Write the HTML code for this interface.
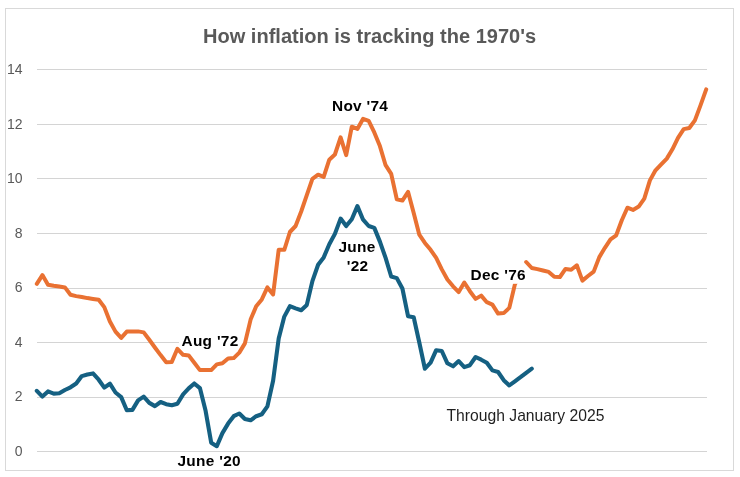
<!DOCTYPE html>
<html><head><meta charset="utf-8"><title>How inflation is tracking the 1970's</title>
<style>
html,body{margin:0;padding:0;background:#fff;}
body{width:740px;height:477px;overflow:hidden;}
svg{display:block;}
text{font-family:"Liberation Sans",sans-serif;}
.ax text{font-size:14px;fill:#595959;text-anchor:end;}
.lbl text{font-size:15.4px;font-weight:bold;fill:#000;letter-spacing:0.3px;}
</style></head><body>
<svg width="740" height="477" viewBox="0 0 740 477">
<rect x="0" y="0" width="740" height="477" fill="#fff"/>
<rect x="5.5" y="8.5" width="728" height="462" fill="#fff" stroke="#d9d9d9" stroke-width="1"/>
<text x="203" y="42.5" font-size="20.05" font-weight="bold" fill="#595959">How inflation is tracking the 1970's</text>
<g stroke="#d4d4d4" stroke-width="1">
<line x1="37" x2="707" y1="451.5" y2="451.5"/>
<line x1="37" x2="707" y1="397.5" y2="397.5"/>
<line x1="37" x2="707" y1="342.5" y2="342.5"/>
<line x1="37" x2="707" y1="288.5" y2="288.5"/>
<line x1="37" x2="707" y1="233.5" y2="233.5"/>
<line x1="37" x2="707" y1="178.5" y2="178.5"/>
<line x1="37" x2="707" y1="124.5" y2="124.5"/>
<line x1="37" x2="707" y1="69.5" y2="69.5"/>
</g>
<g class="ax">
<text x="22.6" y="456.0">0</text>
<text x="22.6" y="401.4">2</text>
<text x="22.6" y="346.8">4</text>
<text x="22.6" y="292.3">6</text>
<text x="22.6" y="237.7">8</text>
<text x="22.6" y="183.1">10</text>
<text x="22.6" y="128.5">12</text>
<text x="22.6" y="73.9">14</text>
</g>
<rect x="179" y="331" width="64" height="19" fill="#fff"/>
<g fill="none" stroke="#e97132" stroke-width="4" stroke-linejoin="round" stroke-linecap="round">
<polyline points="36.8,283.9 42.4,275.1 48.0,284.7 53.7,285.8 59.3,286.6 64.9,287.4 70.5,294.8 76.2,296.1 81.8,297.0 87.4,298.1 93.0,298.9 98.7,299.7 104.3,307.1 109.9,321.5 115.5,331.6 121.2,337.9 126.8,331.6 132.4,331.4 138.1,331.4 143.7,332.4 149.3,339.8 154.9,347.5 160.6,355.1 166.2,362.2 171.8,361.9 177.4,348.8 183.1,354.8 188.7,355.4 194.3,362.7 199.9,370.1 205.6,370.1 211.2,370.1 216.8,364.4 222.4,363.3 228.1,358.4 233.7,358.1 239.3,352.6 244.9,343.4 250.6,319.6 256.2,306.2 261.8,299.4 267.4,287.4 273.1,294.5 278.7,249.8 284.3,249.8 289.9,232.0 295.6,226.0 301.2,211.5 306.8,195.2 312.4,178.8 318.1,174.7 323.7,176.9 329.3,159.7 334.9,154.5 340.6,137.3 346.2,155.1 351.8,126.7 357.4,128.9 363.1,118.8 368.7,120.9 374.3,132.4 379.9,146.1 385.6,165.2 391.2,173.9 396.8,199.3 402.4,200.6 408.1,191.9 413.7,212.9 419.3,234.7 424.9,242.9 430.6,249.8 436.2,257.9 441.8,269.4 447.4,279.5 453.1,286.3 458.7,292.1 464.3,282.5 469.9,291.2 475.6,298.9 481.2,295.6 486.8,302.2 492.4,304.6 498.1,313.6 503.7,313.1 509.3,307.9 514.9,284.4 517.0,280.5"/>
<polyline points="526.2,262.0 531.8,268.0 537.4,269.1 543.0,270.5 548.7,271.9 554.3,276.8 559.9,277.0 565.5,268.9 571.2,269.7 576.8,265.3 582.4,280.6 588.0,276.0 593.7,271.6 599.3,257.1 604.9,247.8 610.5,239.4 616.2,235.3 621.8,220.3 627.4,207.7 633.0,209.9 638.7,206.6 644.3,198.7 649.9,180.4 655.5,170.3 661.2,164.3 666.8,158.6 672.4,149.3 678.0,137.9 683.7,129.1 689.3,128.0 694.9,120.4 700.5,105.4 706.2,89.3"/>
</g>
<g fill="none" stroke="#156082" stroke-width="4.1" stroke-linejoin="round" stroke-linecap="round">
<polyline points="36.8,390.8 42.4,396.6 48.0,391.4 53.7,393.6 59.3,393.3 64.9,390.0 70.5,387.3 76.2,383.5 81.8,376.1 87.4,374.5 93.0,373.4 98.7,379.7 104.3,387.6 109.9,383.7 115.5,392.5 121.2,397.1 126.8,410.2 132.4,409.9 138.1,400.4 143.7,396.6 149.3,402.9 154.9,406.1 160.6,402.0 166.2,404.2 171.8,405.3 177.4,403.7 183.1,394.4 188.7,388.4 194.3,383.5 199.9,388.1 205.6,410.8 211.2,442.7 216.8,446.2 222.4,433.1 228.1,423.6 233.7,416.2 239.3,413.5 244.9,419.0 250.6,420.3 256.2,416.2 261.8,414.3 267.4,406.4 273.1,380.7 278.7,338.4 284.3,316.6 289.9,306.2 295.6,308.4 301.2,310.3 306.8,304.9 312.4,281.1 318.1,264.8 323.7,257.4 329.3,244.3 334.9,233.9 340.6,218.6 346.2,226.0 351.8,219.2 357.4,206.1 363.1,219.7 368.7,226.0 374.3,227.9 379.9,241.6 385.6,257.9 391.2,276.5 396.8,278.1 402.4,288.5 408.1,316.3 413.7,317.2 419.3,342.5 424.9,368.7 430.6,362.7 436.2,350.2 441.8,351.0 447.4,363.3 453.1,366.3 458.7,361.1 464.3,367.1 469.9,365.2 475.6,357.0 481.2,359.7 486.8,362.7 492.4,370.4 498.1,372.0 503.7,380.2 509.3,385.4 514.9,381.3 520.5,377.2 526.2,372.8 531.8,368.7"/>
</g>
<rect x="505" y="266" width="20" height="17.8" fill="#fff"/>
<g class="lbl">
<text x="332" y="110.9">Nov '74</text>
<text x="338.5" y="251.7">June</text>
<text x="346.8" y="271.1">'22</text>
<text x="181.5" y="345.9">Aug '72</text>
<text x="177.5" y="465.8">June '20</text>
<text x="470.5" y="279.9">Dec '76</text>
</g>
<text x="446.5" y="420.5" font-size="15.7" fill="#1f1f1f">Through January 2025</text>
</svg>
</body></html>
